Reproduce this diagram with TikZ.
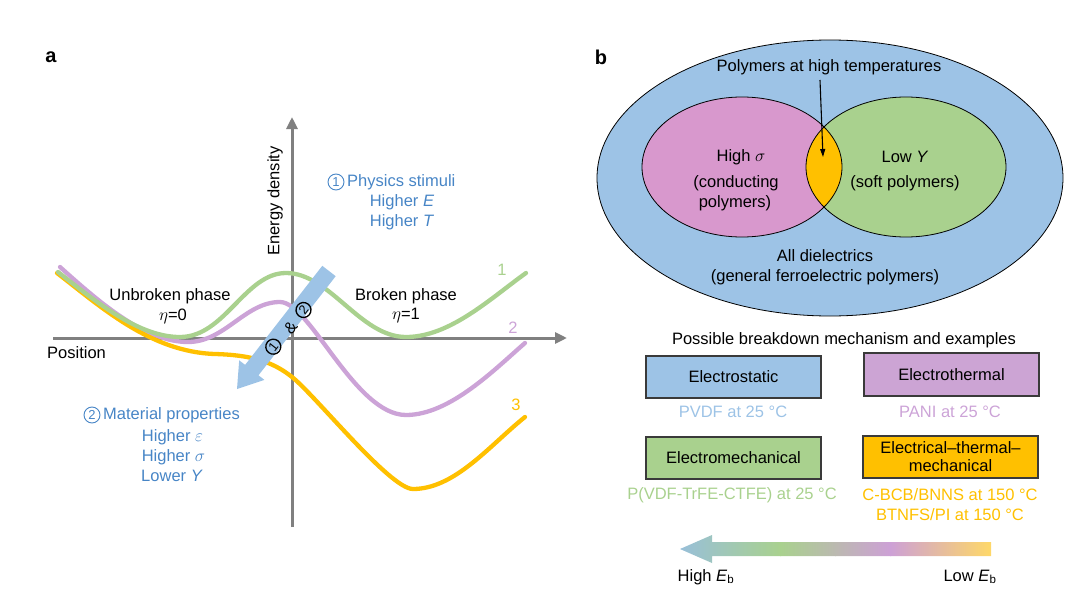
\documentclass[tikz,border=0pt]{standalone}
\usepackage{fontspec}
\setmainfont{Liberation Sans}
\usetikzlibrary{arrows.meta}
\definecolor{axgray}{HTML}{808080}
\definecolor{txtblue}{HTML}{4785C6}
\definecolor{cblue}{HTML}{9DC3E6}
\definecolor{cpink}{HTML}{D898CD}
\definecolor{cgreen}{HTML}{A9D18E}
\definecolor{corange}{HTML}{FFC000}
\definecolor{cpurple}{HTML}{CCA3D7}
\definecolor{boxpurple}{HTML}{CCA4D4}
\definecolor{boxline}{HTML}{3A3A3A}
\definecolor{gA}{HTML}{98BFDA}
\definecolor{gB}{HTML}{A9D18E}
\definecolor{gC}{HTML}{BBB9B0}
\definecolor{gD}{HTML}{CDA0D6}
\definecolor{gE}{HTML}{FFD966}
\begin{document}
\begin{tikzpicture}[x=1pt,y=-1pt,
  lbl/.style={font=\fontsize{16.5}{19}\selectfont, inner sep=0pt},
  bluetxt/.style={lbl, text=txtblue},
  curve/.style={line width=4.3pt, line cap=round},
  axisline/.style={draw=axgray, line width=3pt, -{Triangle[length=12pt,width=11pt]}},
  mbox/.style={lbl, draw=boxline, line width=1.2pt, minimum width=175pt, minimum height=42pt, align=center},
  venn/.style={draw=black, line width=0.8pt},
  cdig/.style={circle, draw, line width=0.9pt, minimum size=16pt, inner sep=0pt, font=\fontsize{13}{13}\selectfont},
  cdigb/.style={cdig, line width=1.3pt, minimum size=15pt},
]
\useasboundingbox (0,0) rectangle (1080,594);

% ---------- panel labels
\node[font=\fontsize{20}{24}\selectfont\bfseries, inner sep=0pt] (la) at (51,57) {a};
\node[font=\fontsize{20}{24}\selectfont\bfseries, inner sep=0pt] (lb) at (601,57) {b};

% ---------- panel a axes
\coordinate (xs) at (53,338);
\coordinate (xe) at (567,338);
\coordinate (ys) at (292,527);
\coordinate (ye) at (292,117);
\draw[axisline] (xs) -- (xe);
\draw[axisline] (ys) -- (ye);

% ---------- curves
\draw[curve, cpurple] (60,267) .. controls (100,303) and (145,342) .. (188,342)
  .. controls (225,342) and (245,302) .. (280,302)
  .. controls (310,302) and (355,415) .. (406,415)
  .. controls (450,415) and (495,369) .. (525,343);
\draw[curve, corange] (57,273) .. controls (100,306) and (150,352) .. (215,354)
  .. controls (250,355) and (272,361) .. (292,377)
  .. controls (315,395) and (390,489) .. (413,489)
  .. controls (455,489) and (490,445) .. (525,417);
\draw[curve, cgreen] (58,272) .. controls (100,305) and (140,337) .. (180,337)
  .. controls (225,337) and (245,273) .. (286,273)
  .. controls (330,273) and (360,337) .. (406,337)
  .. controls (450,337) and (491,298) .. (526,273);

\node[lbl, text=cgreen] (n1) at (502,270) {1};
\node[lbl, text=cpurple] (n2) at (513,328) {2};
\node[lbl, text=corange] (n3) at (516,405) {3};

% ---------- big blue arrow
\fill[cblue] (335.7,276.2) -- (258.5,375.3) -- (264.4,379.9) -- (237,389)
  -- (239.2,360.3) -- (245.1,364.9) -- (322.3,265.8) -- cycle;
\node[cdigb, rotate=52] (c1) at (273.3,346.7) {1};
\node[lbl, rotate=52] (amp) at (290.5,328) {\&};
\node[cdigb, rotate=52] (c2) at (303.5,310) {2};

% ---------- panel a texts
\node[lbl, rotate=90] (ed) at (275,201) {Energy density};
\node[lbl, anchor=west] (pos) at (47,353) {Position};
\node[lbl] (ub) at (170,296) {Unbroken phase};
\node[lbl] (ub0) at (173,316) {$\eta$=0};
\node[lbl] (bp) at (406,296) {Broken phase};
\node[lbl] (bp1) at (406,316) {$\eta$=1};

\node[cdig, draw=txtblue, text=txtblue] (ps0) at (336,182) {1};
\node[bluetxt, anchor=west] (ps) at (347,182) {Physics stimuli};
\node[bluetxt] (hE) at (402,202) {Higher \textit{E}};
\node[bluetxt] (hT) at (402,222) {Higher \textit{T}};

\node[cdig, draw=txtblue, text=txtblue] (mp0) at (92,415) {2};
\node[bluetxt, anchor=west] (mp) at (103,415) {Material properties};
\node[bluetxt] (he) at (172.5,437) {Higher $\varepsilon$};
\node[bluetxt] (hs) at (173.5,457) {Higher $\sigma$};
\node[bluetxt] (lY) at (172,476) {Lower \textit{Y}};

% ---------- panel b Venn
\fill[cblue] (830,178) ellipse [x radius=233pt, y radius=138pt];
\draw[venn] (830,178) ellipse [x radius=233pt, y radius=138pt];
\fill[cpink] (742,167) ellipse [x radius=100pt, y radius=70pt];
\fill[cgreen] (906,167) ellipse [x radius=100pt, y radius=70pt];
\begin{scope}
  \clip (742,167) ellipse [x radius=100pt, y radius=70pt];
  \fill[corange] (906,167) ellipse [x radius=100pt, y radius=70pt];
\end{scope}
\draw[venn] (742,167) ellipse [x radius=100pt, y radius=70pt];
\draw[venn] (906,167) ellipse [x radius=100pt, y radius=70pt];

\node[lbl] (pht) at (829,67) {Polymers at high temperatures};
\coordinate (pa) at (820,80);
\coordinate (pb) at (823,157);
\draw[line width=1.1pt, -{Triangle[length=8pt,width=5pt]}] (pa) -- (pb);

\node[lbl] (hsig) at (741,157) {High $\sigma$};
\node[lbl] (cond) at (736,183) {(conducting};
\node[lbl] (cond2) at (735,203) {polymers)};
\node[lbl] (lowY) at (905,157) {Low \textit{Y}};
\node[lbl] (soft) at (905,183) {(soft polymers)};
\node[lbl] (alld) at (825,256) {All dielectrics};
\node[lbl] (gfp) at (825,277) {(general ferroelectric polymers)};

% ---------- breakdown boxes
\node[lbl] (pbm) at (844,340) {Possible breakdown mechanism and examples};
\node[mbox, fill=cblue] (estat) at (733.5,377) {Electrostatic};
\node[mbox, fill=boxpurple, minimum height=43pt] (etherm) at (951.5,374.5) {Electrothermal};
\node[mbox, fill=cgreen] (emech) at (733.5,458) {Electromechanical};
\node[mbox, fill=corange] (etm) at (950.5,457) {Electrical--thermal--\\[-1pt]mechanical};

\node[lbl, text=cblue] (ex1) at (733,412) {PVDF at 25 °C};
\node[lbl, text=cpurple] (ex2) at (950,412) {PANI at 25 °C};
\node[lbl, text=cgreen] (ex3) at (732,495) {P(VDF-TrFE-CTFE) at 25 °C};
\node[lbl, text=corange] (ex4) at (950,495) {C-BCB/BNNS at 150 °C};
\node[lbl, text=corange] (ex5) at (950,515) {BTNFS/PI at 150 °C};

% ---------- gradient arrow
\begin{scope}
  \clip (680,549) -- (712,535) -- (712,542) -- (991,542) -- (991,556) -- (712,556) -- (712,563) -- cycle;
  \shade[left color=gA, right color=gB] (678,530) rectangle (781,568);
  \shade[left color=gB, right color=gC] (780,530) rectangle (836,568);
  \shade[left color=gC, right color=gD] (835,530) rectangle (891,568);
  \shade[left color=gD, right color=gE] (890,530) rectangle (993,568);
\end{scope}
\node[lbl] (hEb) at (706,577) {High \textit{E}\textsubscript{b}};
\node[lbl] (lEb) at (970,577) {Low \textit{E}\textsubscript{b}};
\end{tikzpicture}
\end{document}
